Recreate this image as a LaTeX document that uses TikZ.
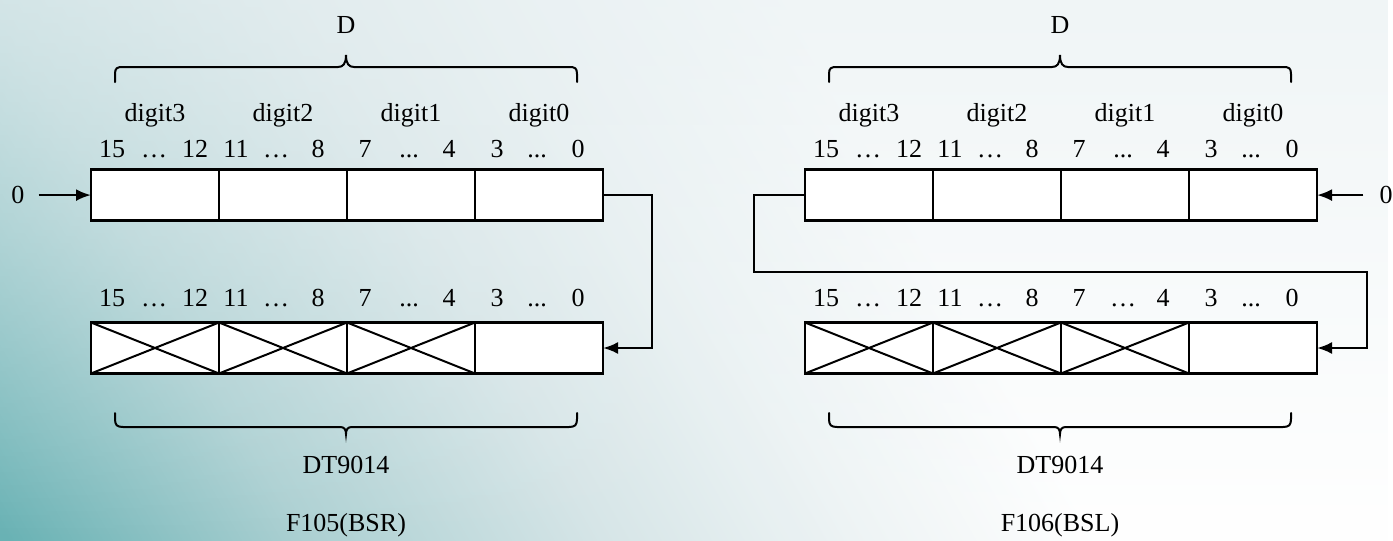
\documentclass[tikz,border=0pt]{standalone}
\usepackage{fontspec}
\setmainfont{Liberation Serif}
\usetikzlibrary{arrows.meta,fadings}
\definecolor{bgA}{RGB}{85,165,168}
\definecolor{bgB}{RGB}{105,178,180}
\definecolor{bgC}{RGB}{172,208,210}
\definecolor{bgD}{RGB}{214,229,231}
\definecolor{bgE}{RGB}{238,244,245}
\definecolor{bgT}{RGB}{232,240,242}
\pgfdeclarehorizontalshading{bgshade}{100bp}{color(0bp)=(bgA); color(16bp)=(bgB); color(28bp)=(bgC); color(40bp)=(bgD); color(50bp)=(bgE); color(60bp)=(white); color(100bp)=(white)}
\tikzfading[name=topfade, top color=transparent!35, middle color=transparent!100, bottom color=transparent!100]
\newcommand\bracetop[1]{%
 \draw[brc] (#1-231,82) -- (#1-231,74) .. controls (#1-231,68) and (#1-229,67) .. (#1-223,67) -- (#1-8,67) .. controls (#1-3,67) and (#1,64) .. (#1,55) .. controls (#1,64) and (#1+3,67) .. (#1+8,67) -- (#1+223,67) .. controls (#1+229,67) and (#1+231,68) .. (#1+231,74) -- (#1+231,82);}
\newcommand\bracebot[1]{%
 \draw[brc] (#1-231,413) -- (#1-231,419) .. controls (#1-231,425) and (#1-229,427) .. (#1-223,427) -- (#1-6,427) .. controls (#1-2,427) and (#1,429) .. (#1,434) .. controls (#1,429) and (#1+2,427) .. (#1+6,427) -- (#1+223,427) .. controls (#1+229,427) and (#1+231,425) .. (#1+231,419) -- (#1+231,413);}
\newcommand\bitrow[7]{%
 \node[txt] (#3a) at (#1+21,#2) {15};
 \node[txt] (#3b) at (#1+63,#2) {#4};
 \node[txt] (#3c) at (#1+104,#2) {12};
 \node[txt] (#3d) at (#1+145,#2) {11};
 \node[txt] (#3e) at (#1+185,#2) {#5};
 \node[txt] (#3f) at (#1+227,#2) {8};
 \node[txt] (#3g) at (#1+274,#2) {7};
 \node[txt] (#3h) at (#1+318,#2) {#6};
 \node[txt] (#3i) at (#1+358,#2) {4};
 \node[txt] (#3j) at (#1+406,#2) {3};
 \node[txt] (#3k) at (#1+446,#2) {#7};
 \node[txt] (#3l) at (#1+487,#2) {0};}
\begin{document}
\begin{tikzpicture}[x=1pt,y=-1pt,
  txt/.style={font=\fontsize{26}{30}\selectfont, inner sep=0pt, anchor=base},
  cell/.style={draw, line width=2.2pt, fill=white, minimum width=128pt, minimum height=51pt, inner sep=0pt, outer sep=0pt},
  cross/.style={line width=2pt},
  conn/.style={line width=2.4pt},
  arr/.style={conn, -{Latex[length=15pt,width=12pt]}},
  brc/.style={line width=2pt, line cap=round}]
\begin{scope}[y=1pt]
\shade[shading=bgshade, shading angle=30] (0,-541) rectangle (1393,0);
\fill[bgT, path fading=topfade] (0,-541) rectangle (1393,0);
\end{scope}
\useasboundingbox (0,0) rectangle (1393,541);

% ---------- left: F105(BSR) ----------
\node[txt] (DL) at (346,33) {D};
\bracetop{346}
\foreach \cx/\t [count=\i from 0] in {155/digit3,283/digit2,411/digit1,539/digit0}
  \node[txt] (dL\i) at (\cx,121) {\t};
\bitrow{91}{157}{tL}{…}{…}{...}{...}
\foreach \cx [count=\i from 0] in {155,283,411,539}{
  \node[cell] (L\i) at (\cx,195) {};
}
\bitrow{91}{306}{bL}{…}{…}{...}{...}
\foreach \cx [count=\i from 0] in {155,283,411,539}{
  \node[cell] (BL\i) at (\cx,348) {};
}
\foreach \i in {0,1,2}{
  \draw[cross] (BL\i.north west) -- (BL\i.south east) (BL\i.south west) -- (BL\i.north east);
}
\node[txt] (zL) at (18,203.6) {0};
\draw[arr, shorten <=14pt] (zL.east) -- (zL.east -| L0.west);
\coordinate (kL) at (652,195);
\draw[arr] (L3.east) -- (kL) |- (BL3.east);
\bracebot{346}
\node[txt] (nL) at (346,473) {DT9014};
\node[txt] (fL) at (346,531) {F105(BSR)};

% ---------- right: F106(BSL) ----------
\node[txt] (DR) at (1060,33) {D};
\bracetop{1060}
\foreach \cx/\t [count=\i from 0] in {869/digit3,997/digit2,1125/digit1,1253/digit0}
  \node[txt] (dR\i) at (\cx,121) {\t};
\bitrow{805}{157}{tR}{…}{…}{...}{...}
\foreach \cx [count=\i from 0] in {869,997,1125,1253}{
  \node[cell] (R\i) at (\cx,195) {};
}
\bitrow{805}{306}{bR}{…}{…}{…}{...}
\foreach \cx [count=\i from 0] in {869,997,1125,1253}{
  \node[cell] (BR\i) at (\cx,348) {};
}
\foreach \i in {0,1,2}{
  \draw[cross] (BR\i.north west) -- (BR\i.south east) (BR\i.south west) -- (BR\i.north east);
}
\node[txt] (zR) at (1386,203.6) {0};
\draw[arr, shorten <=16pt] (zR.west) -- (zR.west -| R3.east);
\coordinate (kR1) at (754,272);
\coordinate (kR2) at (1367,272);
\draw[arr] (R0.west) -| (kR1) -- (kR2) |- (BR3.east);
\bracebot{1060}
\node[txt] (nR) at (1060,473) {DT9014};
\node[txt] (fR) at (1060,531) {F106(BSL)};
\end{tikzpicture}
\end{document}
